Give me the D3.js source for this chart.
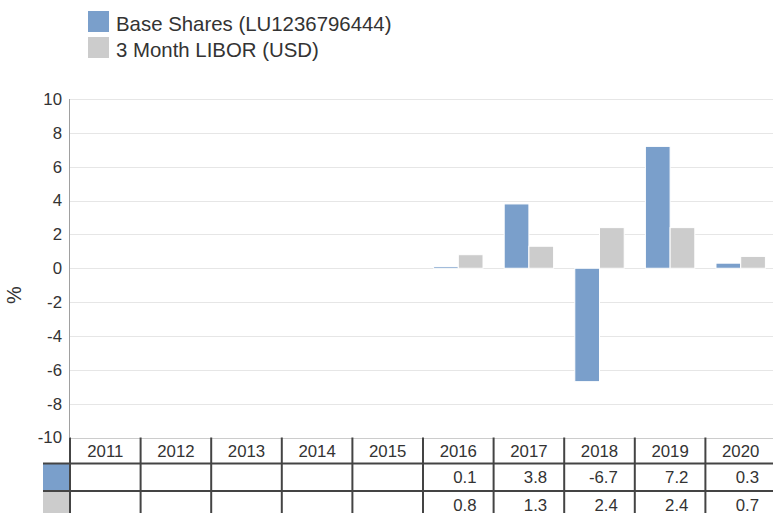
<!DOCTYPE html>
<html>
<head>
<meta charset="utf-8">
<script src="https://cdn.jsdelivr.net/npm/d3@7"></script>
<style>
  body { margin: 0; background: #ffffff; }
  text { font-family: "Liberation Sans", Arial, sans-serif; fill: #333333; }
</style>
</head>
<body>
<div id="canvas"></div>
<script>
"use strict";

/* Data */
let years = ["2011", "2012", "2013", "2014", "2015", "2016", "2017", "2018", "2019", "2020"];
let seriesNames = ["Base Shares (LU1236796444)", "3 Month LIBOR (USD)"];
let baseShares = [null, null, null, null, null, 0.1, 3.8, -6.7, 7.2, 0.3];
let libor = [null, null, null, null, null, 0.8, 1.3, 2.4, 2.4, 0.7];
let yTicks = [-10, -8, -6, -4, -2, 0, 2, 4, 6, 8, 10];
let colors = ["#7a9fcb", "#cccccc"];

/* Drawing config */
let svgWidth = 773;
let svgHeight = 513;
let plotLeft = 70;
let plotRight = 776;
let plotTop = 99;
let plotBottom = 437.5;

let svg = d3.select("#canvas")
  .append("svg")
  .attr("width", svgWidth)
  .attr("height", svgHeight);

let xScale = d3.scaleBand()
  .domain(years)
  .range([plotLeft, plotRight])
  .paddingInner(0.3)
  .paddingOuter(0.15);

let step = xScale.step();

let xInner = d3.scaleBand()
  .domain([0, 1])
  .range([0, xScale.bandwidth()]);

let yScale = d3.scaleLinear()
  .domain([-10, 10])
  .range([plotBottom, plotTop]);

/* Gridlines */
svg.append("g")
  .selectAll("line")
  .data(yTicks)
  .enter()
  .append("line")
  .attr("x1", plotLeft)
  .attr("x2", plotRight)
  .attr("y1", function (d) { return Math.round(yScale(d)) + 0.5; })
  .attr("y2", function (d) { return Math.round(yScale(d)) + 0.5; })
  .attr("stroke", function (d) { return d === -10 ? "#cccccc" : "#e6e6e6"; })
  .attr("stroke-width", 1);

/* Y tick labels */
svg.append("g")
  .selectAll("text")
  .data(yTicks)
  .enter()
  .append("text")
  .attr("x", plotLeft - 8)
  .attr("y", function (d) { return yScale(d); })
  .attr("dy", "0.35em")
  .attr("text-anchor", "end")
  .attr("font-size", "16.8px")
  .text(function (d) { return String(d); });

/* Y axis label */
svg.append("text")
  .attr("transform", "translate(21,295) rotate(-90)")
  .attr("text-anchor", "middle")
  .attr("font-size", "20px")
  .text("%");

/* Bars */
let allSeries = [baseShares, libor];
for (let s = 0; s < allSeries.length; s = s + 1) {
  let rows = [];
  for (let i = 0; i < years.length; i = i + 1) {
    if (allSeries[s][i] !== null) {
      rows.push({ year: years[i], value: allSeries[s][i] });
    }
  }
  svg.append("g")
    .selectAll("rect")
    .data(rows)
    .enter()
    .append("rect")
    .attr("x", function (d) { return xScale(d.year) + xInner(s); })
    .attr("width", xInner.bandwidth())
    .attr("y", function (d) { return Math.min(yScale(d.value), yScale(0)); })
    .attr("height", function (d) { return Math.abs(yScale(d.value) - yScale(0)); })
    .attr("fill", colors[s])
    .attr("stroke", "#ffffff")
    .attr("stroke-width", 1);
}

/* Left axis line */
svg.append("line")
  .attr("x1", plotLeft - 0.5)
  .attr("x2", plotLeft - 0.5)
  .attr("y1", plotTop)
  .attr("y2", plotBottom)
  .attr("stroke", "#a0a0a0")
  .attr("stroke-width", 1);

/* Legend */
let legendX = 88;
let legendY = [11, 37];
for (let i = 0; i < seriesNames.length; i = i + 1) {
  svg.append("rect")
    .attr("x", legendX)
    .attr("y", legendY[i])
    .attr("width", 21)
    .attr("height", 21)
    .attr("fill", colors[i]);

  svg.append("text")
    .attr("x", legendX + 28)
    .attr("y", legendY[i] + 19.5)
    .attr("font-size", "20.4px")
    .text(seriesNames[i]);
}

/* Data table under the chart */
let rowTops = [plotBottom, 463.5, 491];
let rowHeight = 27.5;
let tableStroke = "#444444";

// header row with years
svg.append("g")
  .selectAll("text")
  .data(years)
  .enter()
  .append("text")
  .attr("x", function (d) { return xScale(d) + xScale.bandwidth() / 2; })
  .attr("y", rowTops[0] + 13.5)
  .attr("dy", "0.35em")
  .attr("text-anchor", "middle")
  .attr("font-size", "16.8px")
  .text(function (d) { return d; });

// value rows
for (let s = 0; s < allSeries.length; s = s + 1) {
  let rowData = [];
  for (let i = 0; i < years.length; i = i + 1) {
    rowData.push({ year: years[i], value: allSeries[s][i] });
  }
  svg.append("g")
    .selectAll("text")
    .data(rowData.filter(function (d) { return d.value !== null; }))
    .enter()
    .append("text")
    .attr("x", function (d) { return xScale(d.year) - xScale.step() * xScale.paddingOuter() + step - 17; })
    .attr("y", rowTops[s + 1] + rowHeight / 2)
    .attr("dy", "0.35em")
    .attr("text-anchor", "end")
    .attr("font-size", "16.8px")
    .text(function (d) { return d.value.toFixed(1); });

  // color swatch at the row start
  svg.append("rect")
    .attr("x", 43)
    .attr("y", rowTops[s + 1])
    .attr("width", plotLeft - 43)
    .attr("height", rowHeight)
    .attr("fill", colors[s]);
}

// vertical cell borders
let borderXs = [];
for (let i = 0; i <= years.length; i = i + 1) {
  borderXs.push(plotLeft + i * step);
}
svg.append("g")
  .selectAll("line")
  .data(borderXs)
  .enter()
  .append("line")
  .attr("x1", function (d) { return d; })
  .attr("x2", function (d) { return d; })
  .attr("y1", rowTops[0])
  .attr("y2", svgHeight + 10)
  .attr("stroke", tableStroke)
  .attr("stroke-width", 2);

// horizontal row borders
svg.append("g")
  .selectAll("line")
  .data([rowTops[1], rowTops[2]])
  .enter()
  .append("line")
  .attr("x1", 43)
  .attr("x2", plotRight)
  .attr("y1", function (d) { return d; })
  .attr("y2", function (d) { return d; })
  .attr("stroke", tableStroke)
  .attr("stroke-width", 2);
</script>
</body>
</html>
